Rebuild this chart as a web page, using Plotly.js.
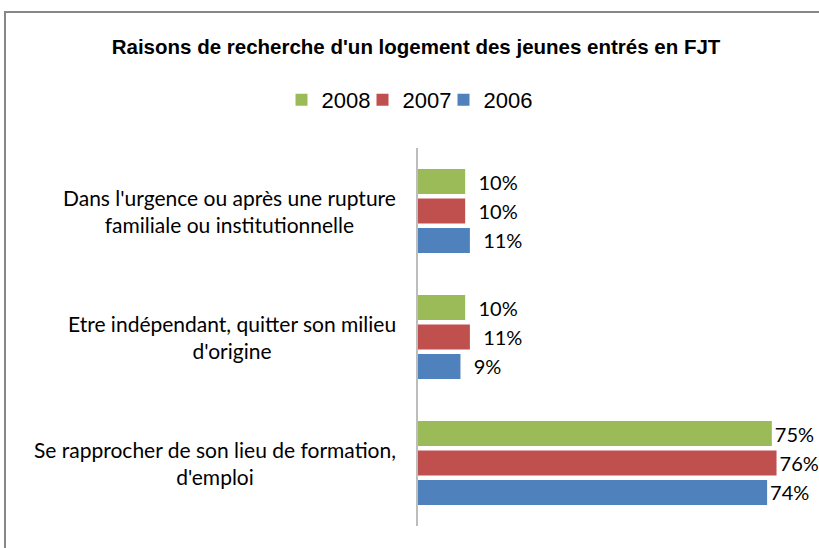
<!DOCTYPE html>
<html>
<head>
<meta charset="utf-8">
<script src="https://cdn.plot.ly/plotly-3.0.1.min.js"></script>
<style>
html,body{margin:0;padding:0;background:#fff;}
#wrap{position:relative;width:819px;height:548px;overflow:hidden;}
#chart{width:819px;height:548px;}
#frame{position:absolute;left:4px;top:11px;width:900px;height:700px;border-left:2px solid #878787;border-top:2px solid #878787;pointer-events:none;}
</style>
</head>
<body>
<div id="wrap">
<div id="chart"></div>
<div id="frame"></div>
</div>
<script>
const categories = [
  "Dans l'urgence ou après une rupture<br>familiale ou institutionnelle",
  "Etre indépendant, quitter son milieu<br>d'origine",
  "Se rapprocher de son lieu de formation,<br>d'emploi"
];
const seriesNames = ["2008", "2007", "2006"];
const values2008 = [10, 10, 75];
const values2007 = [10, 11, 76];
const values2006 = [11, 9, 74];
const colors = ["#9BBB59", "#C0504D", "#4F81BD"];

const allValues = [values2008, values2007, values2006];
const labelFont = {family: "Lato, Carlito, sans-serif", size: 20, color: "#000"};

const traces = allValues.map((vals, i) => {
  const t = {
    type: "bar",
    orientation: "h",
    name: seriesNames[i],
    y: categories,
    x: vals,
    marker: {color: colors[i]},
    text: vals.map(v => (v > 50 ? "" : "\u00A0\u00A0") + v + "%"),
    textposition: "outside",
    textfont: labelFont,
    constraintext: "none",
    cliponaxis: false,
    hoverinfo: "skip"
  };
  if (i < allValues.length - 1) t.legendwidth = 36;
  return t;
});

const annotations = categories.map(c => ({
  xref: "x", yref: "y", x: 0, y: c,
  xanchor: "right", yanchor: "middle", xshift: -20,
  text: c, showarrow: false, align: "center",
  font: {family: "Lato, Carlito, sans-serif", size: 21, color: "#000"}
}));

const layout = {
  width: 819, height: 548,
  margin: {l: 418, r: 0, t: 148, b: 22, pad: 0},
  paper_bgcolor: "#fff", plot_bgcolor: "#fff",
  barmode: "group", bargap: 0.3, bargroupgap: 0.15,
  title: {
    text: "<b>Raisons de recherche d'un logement des jeunes entrés en FJT</b>",
    xref: "container", yref: "container", x: 0.508, y: 0.914,
    xanchor: "center", yanchor: "middle",
    font: {family: "Liberation Sans, Arial, sans-serif", size: 20.5, color: "#000"}
  },
  showlegend: true,
  legend: {
    orientation: "h", xref: "container", yref: "container",
    x: 0.5, y: 0.8175, xanchor: "center", yanchor: "middle",
    font: {family: "Liberation Sans, Arial, sans-serif", size: 22, color: "#000"},
    itemwidth: 30, traceorder: "normal"
  },
  xaxis: {
    range: [0, 85], showgrid: false, zeroline: false, showline: false,
    showticklabels: false, ticks: "", fixedrange: true
  },
  yaxis: {
    type: "category", autorange: "reversed",
    showgrid: false, zeroline: false,
    showline: true, linecolor: "#BDBDBD", linewidth: 2,
    showticklabels: false, ticks: "", fixedrange: true
  },
  annotations: annotations
};

Plotly.newPlot("chart", traces, layout, {displayModeBar: false, staticPlot: true});
</script>
</body>
</html>
